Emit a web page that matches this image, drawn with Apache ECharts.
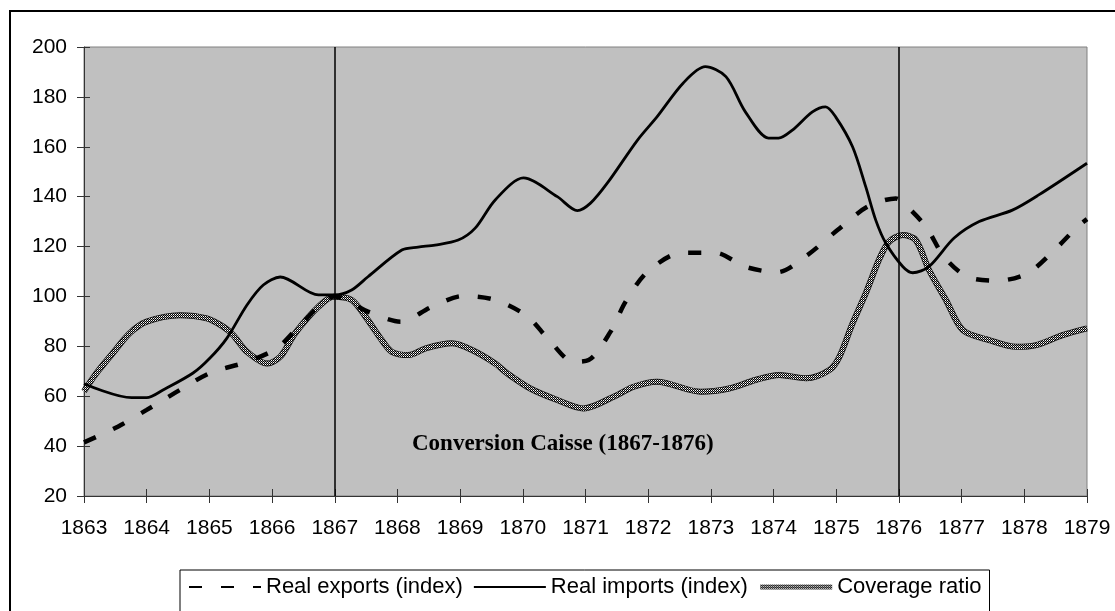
<!DOCTYPE html>
<html>
<head>
<meta charset="utf-8">
<script src="https://cdn.jsdelivr.net/npm/echarts@6/dist/echarts.min.js"></script>
<style>
html,body{margin:0;padding:0;background:#fff;}
#chart{width:1115px;height:611px;}
</style>
</head>
<body>
<div id="chart"></div>
<script>
// ---- Data ----
const yearMin = 1863, yearMax = 1879;
const yTicks = { min: 20, max: 200, step: 20 };
const eventYears = [1867, 1876];
const annotationText = 'Conversion Caisse (1867-1876)';
const seriesNames = ['Real exports (index)', 'Real imports (index)', 'Coverage ratio'];

const exportsYears = [1863.0, 1863.54, 1864.0, 1864.53, 1865.01, 1865.6, 1866.08, 1866.45, 1867.0, 1867.53, 1868.05, 1868.55, 1869.05, 1869.56, 1870.07, 1870.41, 1870.81, 1871.05, 1871.4, 1871.64, 1871.99, 1872.54, 1873.07, 1873.55, 1874.06, 1874.54, 1875.02, 1875.5, 1875.95, 1876.08, 1876.43, 1876.72, 1877.09, 1877.57, 1878.05, 1878.48, 1878.85, 1879.0];
const exportsValues = [41.5, 47.8, 54.5, 62.5, 69.3, 73.8, 79.3, 88.5, 100, 93.9, 89.9, 95.9, 100.2, 98.6, 92.1, 82.8, 73.8, 74.5, 85.9, 97.9, 109.9, 117.5, 117.5, 111.9, 109.7, 116.6, 126.6, 136, 139.3, 137.3, 128, 115.9, 107.9, 106.3, 109.3, 118.6, 128, 131];

const importsYears = [1863.0, 1863.76, 1864.0, 1864.26, 1864.74, 1865.01, 1865.28, 1865.6, 1865.86, 1866.13, 1866.74, 1867.0, 1867.27, 1867.53, 1868.07, 1868.33, 1868.6, 1868.97, 1869.24, 1869.56, 1870.01, 1870.55, 1870.87, 1871.08, 1871.35, 1871.83, 1872.14, 1872.56, 1872.91, 1873.24, 1873.55, 1873.92, 1874.08, 1874.3, 1874.62, 1874.83, 1874.99, 1875.26, 1875.47, 1875.63, 1875.79, 1876.06, 1876.22, 1876.48, 1876.88, 1877.28, 1877.81, 1878.23, 1879.0];
const importsValues = [65, 59.4, 59.4, 62.5, 69.3, 75.3, 83.3, 96.6, 104.6, 107.8, 100.6, 100.6, 102.6, 107.9, 118.6, 119.8, 120.6, 122.6, 127.4, 138.7, 147.5, 140, 134.4, 137.4, 145.5, 162.7, 172, 185.6, 192.1, 188.1, 174, 163.5, 163.5, 166.7, 174, 176, 172, 160, 144, 130.6, 121.4, 112, 109.5, 112, 123.4, 130, 134.6, 140.7, 153.4];

const coverageYears = [1863.0, 1863.2, 1863.46, 1863.73, 1864.0, 1864.53, 1864.96, 1865.22, 1865.38, 1865.6, 1865.92, 1866.13, 1866.37, 1866.74, 1866.98, 1867.27, 1867.49, 1867.75, 1867.91, 1868.18, 1868.45, 1868.87, 1869.19, 1869.56, 1869.75, 1870.12, 1870.55, 1870.97, 1871.45, 1871.77, 1872.14, 1872.84, 1873.29, 1873.71, 1874.09, 1874.52, 1874.89, 1875.05, 1875.26, 1875.47, 1875.68, 1875.84, 1876.06, 1876.27, 1876.48, 1876.75, 1877.02, 1877.44, 1877.87, 1878.19, 1878.61, 1879.0];
const coverageValues = [62, 69.3, 77.3, 85.3, 89.9, 92.5, 91.2, 87.9, 84.5, 77.8, 73.1, 75.8, 85.3, 95.9, 99.9, 98.6, 91.9, 82.5, 77.8, 76.5, 79.2, 81.2, 78.5, 73.1, 69.2, 63.1, 58.5, 55.1, 59.8, 63.8, 65.8, 61.8, 63.1, 66.5, 68.5, 67.2, 70.5, 75.8, 89.2, 101.2, 114.6, 121.9, 124.6, 122.6, 110.6, 98.6, 86.5, 82.5, 79.8, 80.5, 84.5, 87.2];

function pairs(xs, ys) { return xs.map((x, i) => [x, ys[i]]); }

// textured (mostly dark, white-dotted) pattern for the coverage ratio line
const pc = document.createElement('canvas');
pc.width = 2; pc.height = 2;
const pctx = pc.getContext('2d');
pctx.fillStyle = '#000000'; pctx.fillRect(0, 0, 2, 2);
pctx.fillStyle = '#ffffff'; pctx.fillRect(1, 0, 1, 1);
pctx.fillStyle = '#9a9a9a'; pctx.fillRect(0, 1, 1, 1);
const checker = { image: pc, repeat: 'repeat' };

const chart = echarts.init(document.getElementById('chart'), null, { renderer: 'canvas' });
const axisColor = '#333';
const labelFont = { fontFamily: 'Liberation Sans, Arial, sans-serif', fontSize: 21, color: '#000' };

const option = {
  animation: false,
  backgroundColor: '#fff',
  grid: { left: 84, right: 28, top: 47, bottom: 115, show: true, backgroundColor: '#c0c0c0', borderColor: '#808080', borderWidth: 1 },
  xAxis: [
    { type: 'value', min: yearMin, max: yearMax, interval: 1, position: 'bottom',
      axisLine: { show: true, lineStyle: { color: axisColor, width: 1 } },
      axisTick: { show: true, inside: false, length: 7, lineStyle: { color: axisColor } },
      axisLabel: Object.assign({ margin: 22, formatter: v => String(v) }, labelFont),
      splitLine: { show: false } },
    { type: 'value', min: yearMin, max: yearMax, interval: 1, position: 'bottom',
      axisLine: { show: false },
      axisTick: { show: true, inside: true, length: 7, lineStyle: { color: axisColor } },
      axisLabel: { show: false }, splitLine: { show: false } }
  ],
  yAxis: [
    { type: 'value', min: yTicks.min, max: yTicks.max, interval: yTicks.step, position: 'left',
      axisLine: { show: true, lineStyle: { color: axisColor, width: 1 } },
      axisTick: { show: true, inside: false, length: 7, lineStyle: { color: axisColor } },
      axisLabel: Object.assign({ margin: 17 }, labelFont),
      splitLine: { show: false } },
    { type: 'value', min: yTicks.min, max: yTicks.max, interval: yTicks.step, position: 'left',
      axisLine: { show: false },
      axisTick: { show: true, inside: true, length: 6, lineStyle: { color: axisColor } },
      axisLabel: { show: false }, splitLine: { show: false } }
  ],
  legend: {
    data: [
      { name: seriesNames[0] },
      { name: seriesNames[1] },
      { name: seriesNames[2], lineStyle: { width: 5 } }
    ],
    left: 180, top: 570,
    orient: 'horizontal',
    itemWidth: 72, itemHeight: 14, itemGap: 10,
    padding: [6, 8, 20, 8],
    backgroundColor: '#fff',
    borderColor: '#000', borderWidth: 1,
    itemStyle: { opacity: 0 },
    textStyle: { fontFamily: 'Liberation Sans, Arial, sans-serif', fontSize: 22, color: '#000' }
  },
  series: [
    { name: 'coverage-edge', type: 'line', data: pairs(coverageYears, coverageValues), smooth: 0.3,
      showSymbol: false, symbol: 'none', z: 2, silent: true,
      lineStyle: { color: '#111', width: 6 }, emphasis: { disabled: true } },
    { name: seriesNames[2], type: 'line', data: pairs(coverageYears, coverageValues), smooth: 0.3,
      showSymbol: false, symbol: 'none', z: 3,
      lineStyle: { color: checker, width: 4.5 }, itemStyle: { color: checker }, emphasis: { disabled: true } },
    { name: seriesNames[1], type: 'line', data: pairs(importsYears, importsValues), smooth: 0.3,
      showSymbol: false, symbol: 'none', z: 4,
      lineStyle: { color: '#000', width: 2.8 }, itemStyle: { color: '#000' }, emphasis: { disabled: true },
      markLine: { silent: true, symbol: 'none', label: { show: false },
        lineStyle: { color: '#000', width: 1.5, type: 'solid' },
        data: eventYears.map(y => ({ xAxis: y })) } },
    { name: seriesNames[0], type: 'line', data: pairs(exportsYears, exportsValues), smooth: 0.3,
      showSymbol: false, symbol: 'none', z: 5,
      lineStyle: { color: '#000', width: 4.5, type: [13, 19] }, itemStyle: { color: '#000' }, emphasis: { disabled: true } }
  ],
  graphic: [
    { type: 'rect', x: 10, y: 11, silent: true, z: -1,
      shape: { x: 0, y: 0, width: 1300, height: 800 },
      style: { fill: 'none', stroke: '#000', lineWidth: 2 } },
    { type: 'text', left: 412, top: 433, z: 10, silent: true,
      style: { text: annotationText, fill: '#000', font: 'bold 23px "Liberation Serif", "Times New Roman", serif' } }
  ]
};
chart.setOption(option);
</script>
</body>
</html>
